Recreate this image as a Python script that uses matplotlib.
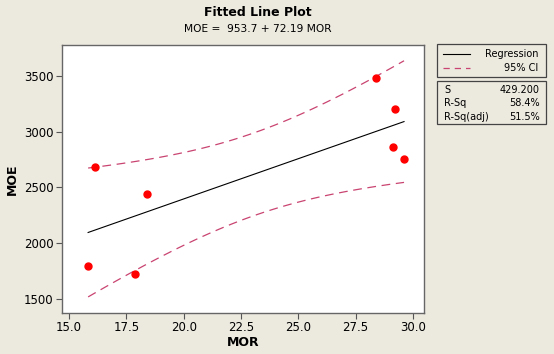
import matplotlib.pyplot as plt
import numpy as np
from matplotlib.patches import Rectangle

# 数据部分
mor = [16.13, 15.83, 18.40, 17.88, 28.39, 29.22, 29.13, 29.61]
moe = [2684, 1796, 2442, 1724, 3482, 3204, 2863, 2756]
intercept = 953.7
slope = 72.19
s_value = 429.2
t_crit = 2.447  # t(0.975, df=6)
x_ticks = [15.0, 17.5, 20.0, 22.5, 25.0, 27.5, 30.0]
y_ticks = [1500, 2000, 2500, 3000, 3500]
stats_names = ["S", "R-Sq", "R-Sq(adj)"]
stats_values = ["429.200", "58.4%", "51.5%"]

bg = '#ECE9DF'
ci_color = '#C94470'

fig = plt.figure(figsize=(5.54, 3.54), dpi=100)
fig.patch.set_facecolor(bg)
ax = fig.add_axes([0.1119, 0.1158, 0.6534, 0.757])
ax.set_facecolor('white')

# 回归线与置信区间
x = np.array(mor)
xs = np.linspace(x.min(), x.max(), 100)
ys = intercept + slope * xs
sxx = np.sum((x - x.mean()) ** 2)
half = t_crit * s_value * np.sqrt(1 / len(x) + (xs - x.mean()) ** 2 / sxx)
ax.plot(xs, ys, color='black', lw=0.8)
ax.plot(xs, ys + half, color=ci_color, lw=0.9, dashes=(7, 4.5))
ax.plot(xs, ys - half, color=ci_color, lw=0.9, dashes=(7, 4.5))
ax.plot(mor, moe, 'o', color='#FF0000', markersize=5, zorder=3)

# 坐标轴设置
ax.set_xlim(14.69, 30.48)
ax.set_ylim(1374, 3778)
ax.set_xticks(x_ticks)
ax.set_xticklabels([f"{v:.1f}" for v in x_ticks])
ax.set_yticks(y_ticks)
ax.tick_params(labelsize=8.5, length=4, width=0.8, color='#555555', pad=2)
for sp in ax.spines.values():
    sp.set_color('#666666')
    sp.set_linewidth(1.0)
ax.set_xlabel("MOR", fontsize=9, fontweight='bold', labelpad=1)
ax.set_ylabel("MOE", fontsize=9, fontweight='bold', labelpad=4)

# 标题
fig.text(0.466, 0.965, "Fitted Line Plot", ha='center', va='center',
         fontsize=9, fontweight='bold')
fig.text(0.466, 0.918, "MOE =  953.7 + 72.19 MOR", ha='center', va='center',
         fontsize=7.7)

# 图例框
W, H = 554, 354
def box(x0, y0, x1, y1):
    fig.patches.append(Rectangle((x0 / W, 1 - y1 / H), (x1 - x0) / W, (y1 - y0) / H,
                                 transform=fig.transFigure, fill=True,
                                 facecolor=bg, edgecolor='#444444', lw=0.9))
box(437, 44, 546, 77)
box(437, 81, 546, 124)
fig.add_artist(plt.Line2D([443 / W, 470 / W], [1 - 54 / H] * 2, color='black', lw=0.8))
fig.add_artist(plt.Line2D([443 / W, 470 / W], [1 - 68 / H] * 2, color=ci_color,
                          lw=0.9, dashes=(5, 4)))
fig.text(538 / W, 1 - 54 / H, "Regression", ha='right', va='center', fontsize=7)
fig.text(538 / W, 1 - 68 / H, "95% CI", ha='right', va='center', fontsize=7)
for i, (nm, vl) in enumerate(zip(stats_names, stats_values)):
    yy = 1 - (90 + i * 13.5) / H
    fig.text(444 / W, yy, nm, ha='left', va='center', fontsize=7)
    fig.text(540 / W, yy, vl, ha='right', va='center', fontsize=7)

fig.savefig('out.png', dpi=100, facecolor=bg)
